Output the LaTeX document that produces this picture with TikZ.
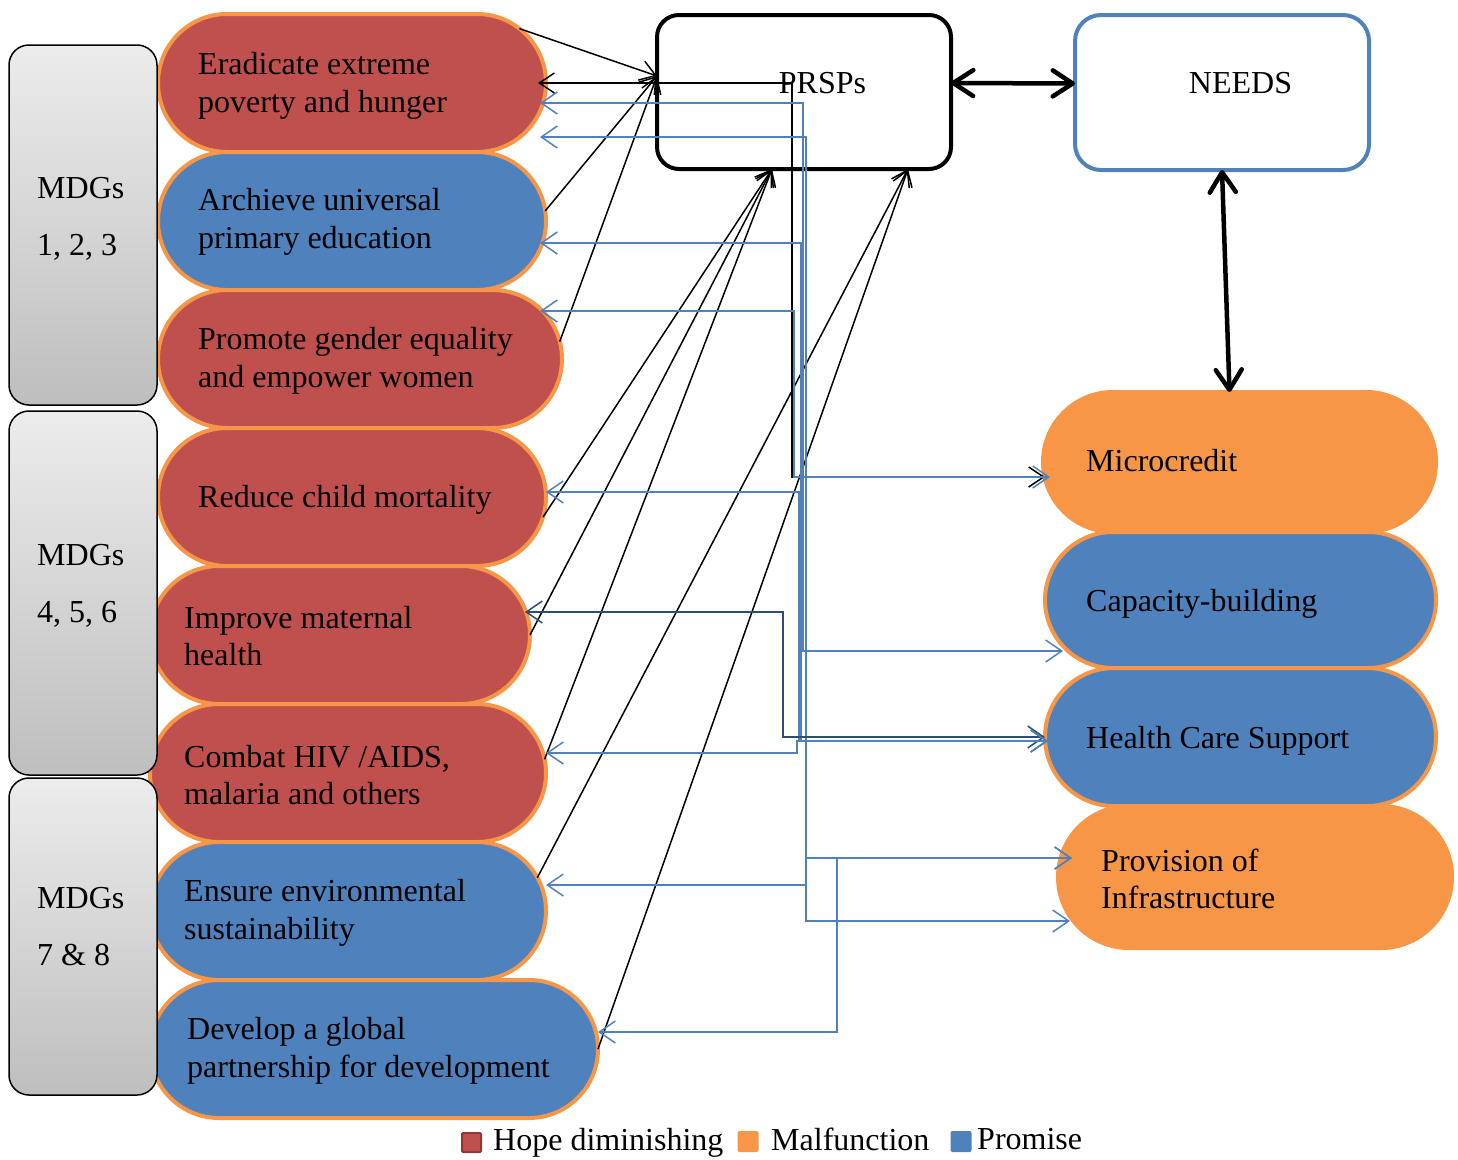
\documentclass[tikz,border=0pt]{standalone}
\usepackage{fontspec}
\setmainfont{Liberation Serif}
\usetikzlibrary{arrows.meta,shapes.misc}
\definecolor{hred}{HTML}{C0504D}
\definecolor{hblue}{HTML}{4F81BD}
\definecolor{horange}{HTML}{F79646}
\definecolor{dblue}{HTML}{2C4D75}
\definecolor{dred}{HTML}{943634}
\definecolor{gtop}{RGB}{236,236,236}
\definecolor{gbot}{RGB}{190,190,190}
\begin{document}
\begin{tikzpicture}[x=1pt,y=-1pt,
  pill/.style={rounded rectangle, draw=horange, line width=4pt, inner sep=0pt, outer sep=0pt},
  mdg/.style={rectangle, rounded corners=20pt, draw=black, line width=1.5pt, top color=gtop, bottom color=gbot, minimum width=148pt, inner sep=0pt, outer sep=0pt},
  topbox/.style={rectangle, line width=4pt, fill=white, minimum width=294pt, inner sep=0pt, outer sep=0pt},
  lbl/.style={font=\fontsize{32}{37.5}\selectfont, align=left, anchor=west, inner sep=0pt},
  mdgt/.style={font=\fontsize{32}{57}\selectfont, align=left, anchor=west, inner sep=0pt},
  ctr/.style={font=\fontsize{32}{37.5}\selectfont, inner sep=0pt},
  blk/.style={draw=black, line width=1.5pt, >={Straight Barb[length=15pt,width=20pt]}},
  blu/.style={draw=hblue, line width=1.5pt, >={Straight Barb[length=16pt,width=22pt]}},
  dblu/.style={draw=dblue, line width=1.5pt, >={Straight Barb[length=16pt,width=22pt]}},
  bigarr/.style={draw=black, line width=4.5pt, >={Straight Barb[length=20pt,width=26pt,round]}},
  keybox/.style={rectangle, minimum size=21pt, inner sep=0pt, outer sep=0pt, rounded corners=2pt}
]
\useasboundingbox (0,0) rectangle (1458,1159);

% left goal pills
\node[pill, fill=hred,  minimum width=388pt, minimum height=138pt] (g1) at (352,83) {};
\node[pill, fill=hblue, minimum width=388pt, minimum height=138pt] (g2) at (352,221) {};
\node[pill, fill=hred,  minimum width=404pt, minimum height=138pt] (g3) at (360,359) {};
\node[pill, fill=hred,  minimum width=388pt, minimum height=138pt] (g4) at (352,497) {};
\node[pill, fill=hred,  minimum width=380pt, minimum height=138pt] (g5) at (340,635) {};
\node[pill, fill=hred,  minimum width=396pt, minimum height=138pt] (g6) at (348,773) {};
\node[pill, fill=hblue, minimum width=396pt, minimum height=138pt] (g7) at (348,911) {};
\node[pill, fill=hblue, minimum width=448pt, minimum height=138pt] (g8) at (374,1049) {};

% MDG grey boxes
\node[mdg, minimum height=360pt] (m1) at (83,225) {};
\node[mdg, minimum height=364pt] (m2) at (83,593) {};
\node[mdg, minimum height=317pt] (m3) at (83,936.5) {};

% right pills
\node[pill, fill=horange, minimum width=393pt, minimum height=140pt] (r1) at (1239.5,462) {};
\node[pill, fill=hblue,   minimum width=391pt, minimum height=136pt] (r2) at (1240.5,600) {};
\node[pill, fill=hblue,   minimum width=391pt, minimum height=138pt] (r3) at (1240.5,737) {};
\node[pill, fill=horange, minimum width=394pt, minimum height=142pt] (r4) at (1255,877) {};

% top boxes
\node[topbox, draw=black, rounded corners=22pt, minimum height=154pt] (prsp) at (804,92) {};
\node[topbox, draw=hblue, rounded corners=26pt, minimum height=155pt] (needs) at (1222,92.5) {};

% texts
\node[mdgt] (m1t) at (37,219) {MDGs\\1, 2, 3};
\node[mdgt] (m2t) at (37,586) {MDGs\\4, 5, 6};
\node[mdgt] (m3t) at (37,927) {MDGs\\7 \& 8};

\node[lbl] (g1t) at (198,86) {Eradicate extreme\\poverty and hunger};
\node[lbl] (g2t) at (198,222) {Archieve universal\\primary education};
\node[lbl] (g3t) at (198,361) {Promote gender equality\\and empower women};
\node[lbl] (g4t) at (198,499.5) {Reduce child mortality};
\node[lbl] (g5t) at (184,636) {Improve maternal\\health};
\node[lbl] (g6t) at (184,775) {Combat HIV /AIDS,\\malaria and others};
\node[lbl] (g7t) at (184,913) {Ensure environmental\\sustainability};
\node[lbl] (g8t) at (187,1051) {Develop a global\\partnership for development};

\node[lbl] (r1t) at (1086,461) {Microcredit};
\node[lbl] (r2t) at (1086,603.5) {Capacity-building};
\node[lbl] (r3t) at (1086,740.5) {Health Care Support};
\node[lbl] (r4t) at (1101,879) {Provision of\\Infrastructure};

\node[ctr] (prspt) at (822.5,83) {PRSPs};
\node[ctr] (needst) at (1240.5,83) {NEEDS};

% black connectors to PRSPs
\draw[blk,->] (g1.18) -- ([yshift=16pt]prsp.west);
\draw[blk,->] (g2.3) -- ([yshift=16pt]prsp.west);
\draw[blk,->] (g3.5) -- ([yshift=16pt]prsp.west);
\draw[blk,->] (g4.-6) -- ([xshift=-32pt]prsp.south);
\draw[blk,->] (g5.east) -- ([xshift=-32pt]prsp.south);
\draw[blk,->] (g6.4) -- ([xshift=-32pt]prsp.south);
\draw[blk,->] (g7.10) -- ([xshift=104pt]prsp.south);
\draw[blk,->] (g8.east) -- ([xshift=104pt]prsp.south);
\draw[blk,<->] ([xshift=-8pt]g1.east) -- ++(254,0) |- ([shift={(2,15)}]r1.west);

% blue elbow connectors
\draw[blu,<->] ([shift={(-6,20)}]g1.east) -- ++(263,0) |- ([shift={(18,51)}]r2.west);
\draw[blu,<->] ([shift={(-6,54)}]g1.east) -- ++(266,0) |- ([shift={(12,44)}]r4.west);
\draw[blu,<->] ([shift={(-6,22)}]g2.east) -- ++(261,0) |- ([shift={(3,4)}]r3.west);
\draw[blu,<->] ([shift={(-22,-48)}]g3.east) -- ++(254,0) |- ([shift={(7,15)}]r1.west);
\draw[blu,<->] ([shift={(0,-5)}]g4.east) -- ++(253,0) |- ([shift={(3,4)}]r3.west);
\draw[dblu,<->] ([shift={(-5,-23)}]g5.east) -- ++(258,0) |- (r3.west);
\draw[blu,<->] ([shift={(0,-20)}]g6.east) -- ++(251,0) |- ([shift={(3,4)}]r3.west);
\draw[blu,<->] ([shift={(0,-26)}]g7.east) -- ++(260,0) |- ([shift={(14,-19)}]r4.west);
\draw[blu,<->] ([shift={(0,-17)}]g8.east) -- ++(239,0) |- ([shift={(14,-19)}]r4.west);

% thick arrows
\draw[bigarr,<->] ([yshift=9pt]prsp.east) -- ([yshift=9pt]needs.west);
\draw[bigarr,<->] (needs.south) -- ([xshift=-10pt]r1.north);

% legend
\node[keybox, draw=dred, line width=2pt, fill=hred, minimum size=19pt, rounded corners=1pt] (k1) at (471.5,1142.5) {};
\node[lbl] (k1t) at (493,1142.5) {Hope diminishing};
\node[keybox, fill=horange] (k2) at (748,1141.5) {};
\node[lbl] (k2t) at (771,1139) {Malfunction};
\node[keybox, fill=hblue] (k3) at (961,1141.5) {};
\node[lbl] (k3t) at (977,1139) {Promise};
\end{tikzpicture}
\end{document}
